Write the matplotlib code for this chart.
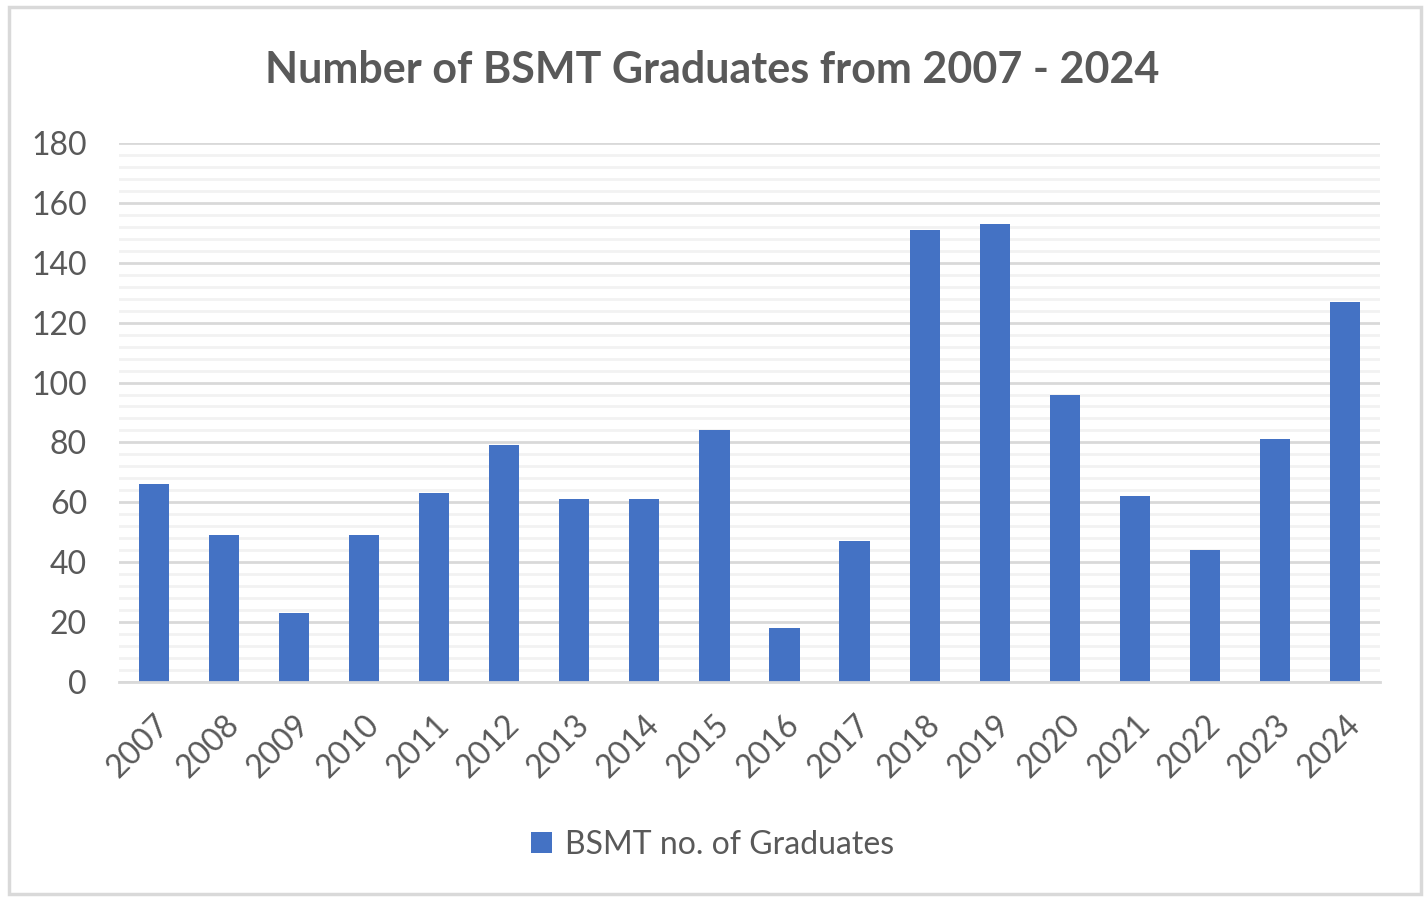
import matplotlib
matplotlib.use('agg')
import matplotlib.pyplot as plt
from matplotlib.patches import Rectangle

years = ['2007', '2008', '2009', '2010', '2011', '2012', '2013', '2014', '2015',
         '2016', '2017', '2018', '2019', '2020', '2021', '2022', '2023', '2024']
graduates = [66, 49, 23, 49, 63, 79, 61, 61, 84, 18, 47, 151, 153, 96, 62, 44, 81, 127]

plt.rcParams['font.family'] = ['Lato', 'DejaVu Sans']
text_color = '#595959'

fig = plt.figure(figsize=(14.25, 8.97), dpi=100)
ax = fig.add_axes([0.0835, 0.2397, 0.8849, 0.6009])

x = list(range(len(years)))
ax.bar(x, graduates, width=0.43, color='#4472C4', label='BSMT no. of Graduates', zorder=3)

ax.set_xlim(-0.5, len(years) - 0.5)
ax.set_ylim(0, 180)
ax.set_yticks(range(0, 181, 20))
ax.set_yticks(range(0, 181, 4), minor=True)
ax.grid(axis='y', which='major', color='#d9d9d9', linewidth=2.0, zorder=0)
ax.grid(axis='y', which='minor', color='#f2f2f2', linewidth=2.0, zorder=0)
ax.set_xticks(x)
ax.set_xticklabels(years, rotation=45, ha='right', rotation_mode='anchor')
ax.tick_params(axis='both', which='both', length=0, labelsize=23, colors=text_color)
ax.tick_params(axis='x', pad=20)
ax.tick_params(axis='y', pad=23)
for lbl in ax.get_yticklabels():
    lbl.set_horizontalalignment('right')

for side in ['top', 'right', 'left']:
    ax.spines[side].set_visible(False)
ax.spines['bottom'].set_color('#d9d9d9')
ax.spines['bottom'].set_linewidth(2.0)
ax.spines['bottom'].set_zorder(4)

fig.text(0.5, 0.922, 'Number of BSMT Graduates from 2007 - 2024', ha='center', va='center',
         fontsize=31, fontweight='bold', color=text_color)

leg = fig.legend(loc='center', bbox_to_anchor=(0.5, 0.058), frameon=False, fontsize=23,
                 handlelength=0.65, handleheight=0.65, handletextpad=0.4)
for t in leg.get_texts():
    t.set_color(text_color)

fig.patches.append(Rectangle((0.006, 0.003), 0.991, 0.989, transform=fig.transFigure,
                             fill=False, edgecolor='#d9d9d9', linewidth=2.5))

fig.savefig('out.png', dpi=100)
